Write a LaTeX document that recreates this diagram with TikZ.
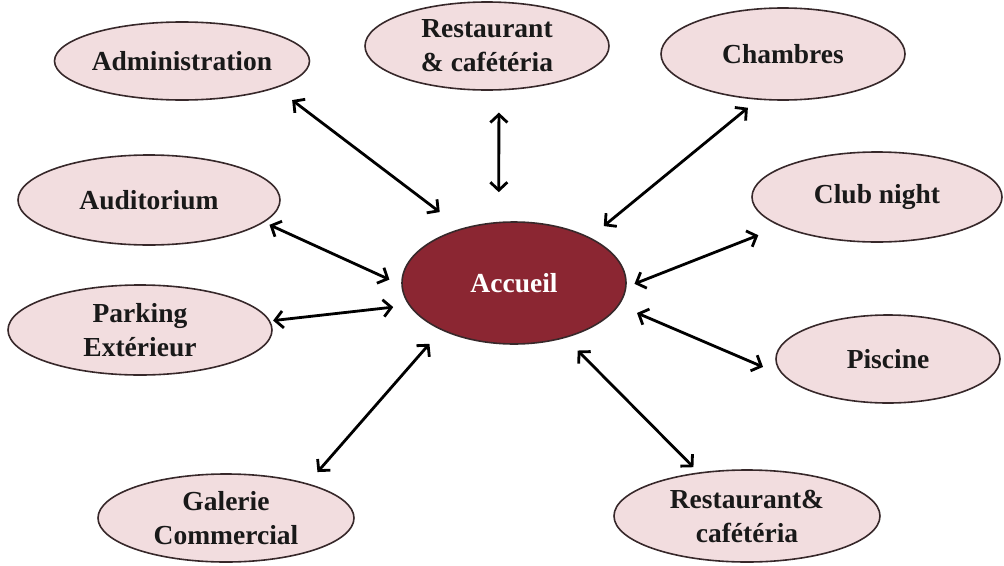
\documentclass[tikz,border=0pt]{standalone}
\usepackage{fontspec}
\setmainfont{Liberation Serif}
\usetikzlibrary{shapes.geometric,arrows.meta}
\definecolor{pinkfill}{RGB}{242,221,223}
\definecolor{accfill}{RGB}{139,38,50}
\definecolor{edge}{RGB}{55,40,42}
\tikzset{
  elbox/.style={shape=ellipse, draw=edge, line width=1.6pt, fill=pinkfill, inner sep=0pt,
    align=center, font=\fontsize{27.5}{34}\selectfont\bfseries, text=black!90},
  accbox/.style={elbox, fill=accfill, text=white},
  link/.style={line width=2.8pt, black,
    {Straight Barb[length=8pt,width=17pt,line width=2.8pt]}-{Straight Barb[length=8pt,width=17pt,line width=2.8pt]}}
}
\begin{document}
\begin{tikzpicture}[x=1pt,y=1pt]
\useasboundingbox (0,0) rectangle (1004,-565);
\node[elbox, minimum width=250pt, minimum height=78pt] (adm) at (182,-61) {Administration};
\node[elbox, minimum width=244pt, minimum height=88pt] (rt) at (487,-46) {Restaurant\\\& cafétéria};
\node[elbox, minimum width=244pt, minimum height=92pt] (ch) at (783,-54) {Chambres};
\node[elbox, minimum width=262pt, minimum height=90pt] (aud) at (149,-200) {Auditorium};
\node[elbox, minimum width=250pt, minimum height=90pt] (cn) at (877,-197) {Club night};
\node[accbox, minimum width=224pt, minimum height=122pt] (acc) at (514,-283) {Accueil};
\node[elbox, minimum width=264pt, minimum height=90pt] (park) at (140,-330) {Parking\\Extérieur};
\node[elbox, minimum width=224pt, minimum height=88pt] (pis) at (888,-359) {Piscine};
\node[elbox, minimum width=256pt, minimum height=88pt] (gal) at (226,-518) {Galerie\\Commercial};
\node[elbox, minimum width=266pt, minimum height=92pt] (rb) at (747,-516) {Restaurant\&\\cafétéria};

\draw[link, shorten <=20pt, shorten >=27pt] (adm.-16.7) -- (acc.134.1);
\draw[link, shorten <=22pt, shorten >=29.6pt] (rt.-75.9) -- (acc.104.8);
\draw[link, shorten <=12.6pt, shorten >=17.8pt] (ch.-119.2) -- (acc.31.7);
\draw[link, shorten <=6pt, shorten >=13pt] (aud.-11.2) -- (acc.181.2);
\draw[link, shorten <=24pt, shorten >=8.5pt] (cn.-163) -- (acc.-2.6);
\draw[link, shorten <=3pt, shorten >=15.7pt] (park.4.3) -- (acc.192.8);
\draw[link, shorten <=22pt, shorten >=19.4pt] (pis.189.7) -- (acc.-12.1);
\draw[link, shorten <=15pt, shorten >=18pt] (gal.23.7) -- (acc.-147.1);
\draw[link, shorten <=7.3pt, shorten >=17.6pt] (rb.138.8) -- (acc.-47.1);
\end{tikzpicture}
\end{document}
